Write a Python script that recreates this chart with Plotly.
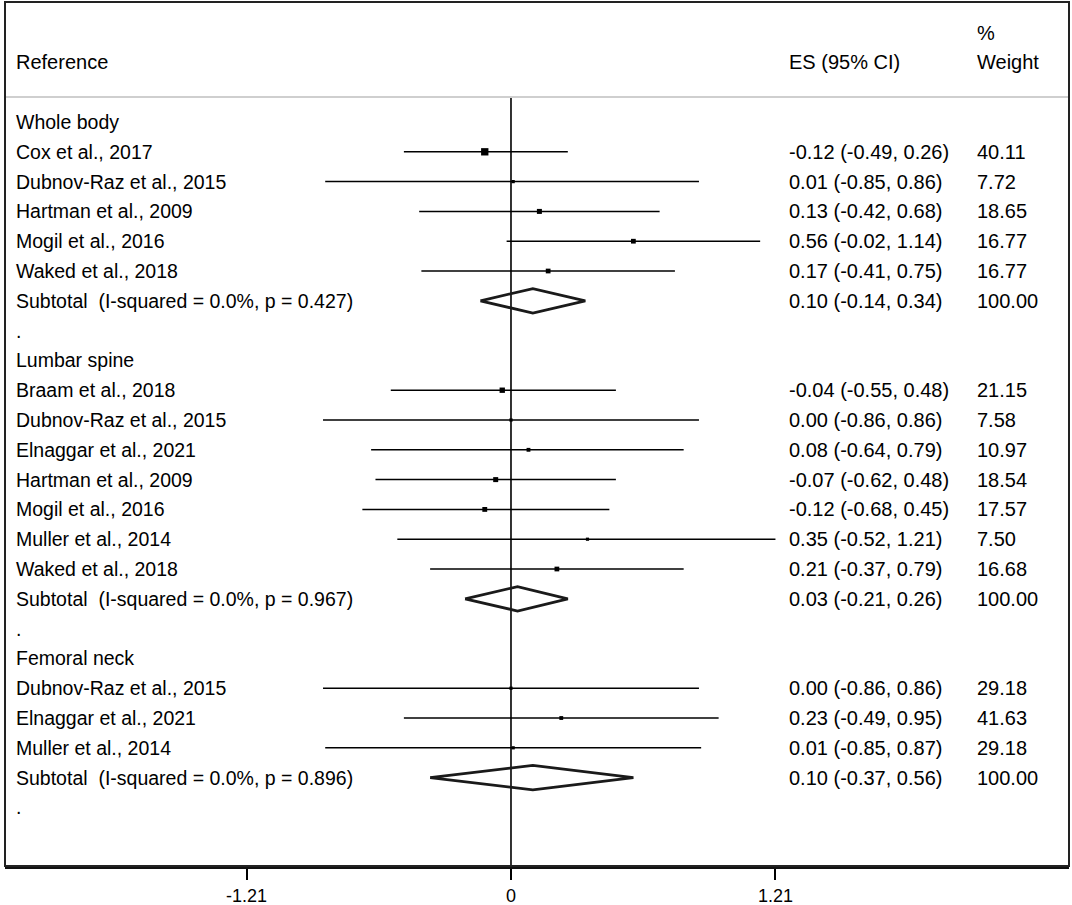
import plotly.graph_objects as go

# rows of the forest plot, top to bottom
labels = [
    "Whole body",
    "Cox et al., 2017", "Dubnov-Raz et al., 2015", "Hartman et al., 2009",
    "Mogil et al., 2016", "Waked et al., 2018",
    "Subtotal  (I-squared = 0.0%, p = 0.427)", ".",
    "Lumbar spine",
    "Braam et al., 2018", "Dubnov-Raz et al., 2015", "Elnaggar et al., 2021",
    "Hartman et al., 2009", "Mogil et al., 2016", "Muller et al., 2014",
    "Waked et al., 2018",
    "Subtotal  (I-squared = 0.0%, p = 0.967)", ".",
    "Femoral neck",
    "Dubnov-Raz et al., 2015", "Elnaggar et al., 2021", "Muller et al., 2014",
    "Subtotal  (I-squared = 0.0%, p = 0.896)", ".",
]
# row kind: h = group header, s = study, t = subtotal, d = dot
kinds = ["h", "s", "s", "s", "s", "s", "t", "d",
         "h", "s", "s", "s", "s", "s", "s", "s", "t", "d",
         "h", "s", "s", "s", "t", "d"]
es = [None, -0.12, 0.01, 0.13, 0.56, 0.17, 0.10, None,
      None, -0.04, 0.00, 0.08, -0.07, -0.12, 0.35, 0.21, 0.03, None,
      None, 0.00, 0.23, 0.01, 0.10, None]
ci_lo = [None, -0.49, -0.85, -0.42, -0.02, -0.41, -0.14, None,
         None, -0.55, -0.86, -0.64, -0.62, -0.68, -0.52, -0.37, -0.21, None,
         None, -0.86, -0.49, -0.85, -0.37, None]
ci_hi = [None, 0.26, 0.86, 0.68, 1.14, 0.75, 0.34, None,
         None, 0.48, 0.86, 0.79, 0.48, 0.45, 1.21, 0.79, 0.26, None,
         None, 0.86, 0.95, 0.87, 0.56, None]
weights = [None, "40.11", "7.72", "18.65", "16.77", "16.77", "100.00", None,
           None, "21.15", "7.58", "10.97", "18.54", "17.57", "7.50", "16.68", "100.00", None,
           None, "29.18", "41.63", "29.18", "100.00", None]
tick_vals = [-1.21, 0, 1.21]
tick_text = ["-1.21", "0", "1.21"]

FONT = "Liberation Sans, Arial, Helvetica, sans-serif"
FS = 20
X_RANGE = [-2.315, 2.553]
Y_RANGE = [24.966, -4.027]
HEADER_Y = -2.0
PCT_Y = -2.98
RULE_Y = -0.84
X_LABEL = -2.274
X_ES = 1.262
X_WT = 2.123

fig = go.Figure()

# zero line
fig.add_trace(go.Scatter(x=[0, 0], y=[RULE_Y, Y_RANGE[0]], mode="lines",
                         line=dict(color="black", width=1.6), hoverinfo="skip"))

ann = []
for i, (lab, k) in enumerate(zip(labels, kinds)):
    ann.append(dict(x=X_LABEL, y=i, text=lab, xanchor="left", yanchor="middle",
                    font=dict(size=19.5)))
    if es[i] is None:
        continue
    ann.append(dict(x=X_ES, y=i, text=f"{es[i]:.2f} ({ci_lo[i]:.2f}, {ci_hi[i]:.2f})",
                    xanchor="left", yanchor="middle"))
    ann.append(dict(x=X_WT, y=i, text=weights[i], xanchor="left", yanchor="middle"))
    if k == "s":
        fig.add_trace(go.Scatter(x=[ci_lo[i], ci_hi[i]], y=[i, i], mode="lines",
                                 line=dict(color="black", width=1.5), hoverinfo="skip"))
        side = 5.5 / (ci_hi[i] - ci_lo[i])
        fig.add_trace(go.Scatter(x=[es[i]], y=[i], mode="markers",
                                 marker=dict(symbol="square", size=side, color="black",
                                             line=dict(width=0)),
                                 hoverinfo="skip"))
    else:
        h = 0.41
        fig.add_trace(go.Scatter(x=[ci_lo[i], es[i], ci_hi[i], es[i], ci_lo[i]],
                                 y=[i, i - h, i, i + h, i], mode="lines",
                                 line=dict(color="#1a1a1a", width=2.8), hoverinfo="skip"))

# header
ann.append(dict(x=X_LABEL, y=HEADER_Y, text="Reference", xanchor="left", yanchor="middle"))
ann.append(dict(x=X_ES, y=HEADER_Y, text="ES (95% CI)", xanchor="left", yanchor="middle"))
ann.append(dict(x=X_WT, y=HEADER_Y, text="Weight", xanchor="left", yanchor="middle"))
ann.append(dict(x=X_WT, y=PCT_Y, text="%", xanchor="left", yanchor="middle"))
for a in ann:
    size = a.get("font", {}).get("size", FS)
    a.update(xref="x", yref="y", showarrow=False,
             font=dict(family=FONT, size=size, color="black"))

fig.update_layout(
    width=1072, height=905,
    margin=dict(l=5, r=3, t=2, b=39),
    paper_bgcolor="white", plot_bgcolor="white",
    showlegend=False,
    annotations=ann,
    font=dict(family=FONT, size=FS, color="black"),
    shapes=[
        dict(type="line", xref="paper", yref="y", x0=0, x1=1, y0=RULE_Y, y1=RULE_Y,
             line=dict(color="#cfcfcf", width=2)),
        dict(type="rect", xref="paper", yref="paper", x0=0, x1=1, y0=0, y1=1,
             line=dict(color="#222222", width=2)),
    ],
)
fig.update_xaxes(range=X_RANGE, tickvals=tick_vals, ticktext=tick_text,
                 automargin=False,
                 showgrid=False, zeroline=False, showline=True, linecolor="#111111",
                 linewidth=3, ticks="outside", ticklen=11, tickwidth=1.5,
                 tickcolor="black", tickfont=dict(family=FONT, size=18, color="black"))
fig.update_yaxes(range=Y_RANGE, automargin=False, showgrid=False, zeroline=False,
                 showticklabels=False, showline=False)

fig.write_html("out.html", config={"displayModeBar": False},
               post_script="document.body.style.margin='0';")
